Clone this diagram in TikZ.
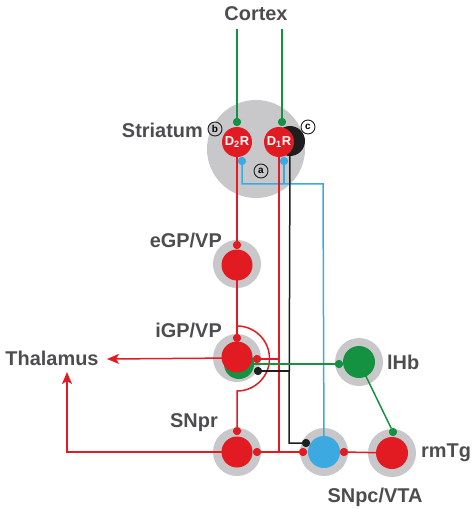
\documentclass[tikz,border=0pt]{standalone}
\usepackage{fontspec}
\setmainfont{Liberation Sans}
\usetikzlibrary{arrows.meta}
\definecolor{myred}{RGB}{226,26,34}
\definecolor{mygreen}{RGB}{20,145,65}
\definecolor{myblue}{RGB}{60,170,225}
\definecolor{mygray}{RGB}{200,200,202}
\definecolor{txtgray}{RGB}{77,77,79}
\definecolor{myblack}{RGB}{30,30,30}
\tikzset{
  lbl/.style={text=txtgray,font=\fontsize{20}{22}\selectfont\bfseries,inner sep=0pt},
  halo/.style={circle,fill=mygray,minimum size=48bp,inner sep=0pt},
  core/.style={circle,fill=#1,minimum size=31bp,inner sep=0pt},
  dot/.style={circle,fill=#1,minimum size=8bp,inner sep=0pt},
  lnk/.style={line width=1.5bp,draw=#1},
  tag/.style={circle,draw=myblack,line width=0.9bp,minimum size=14bp,inner sep=0pt,font=\fontsize{10}{10}\selectfont\bfseries},
  rec/.style={circle,fill=myred,minimum size=30bp,inner sep=0pt,text=white,font=\fontsize{13}{13}\selectfont\bfseries},
  tip/.style={-{Stealth[length=12bp,width=10bp,inset=3bp]}}
}
\begin{document}
\begin{tikzpicture}[x=1bp,y=-1bp]
\useasboundingbox (0,0) rectangle (475,509);
% labels
\node[lbl] (cortex) at (256,14) {Cortex};
\node[lbl,anchor=east] (striatumL) at (203,130) {Striatum};
\node[lbl,anchor=east] (egpL) at (222,240) {eGP/VP};
\node[lbl,anchor=east] (igpL) at (222,330) {iGP/VP};
\node[lbl,anchor=east] (snprL) at (218,423) {SNpr};
\node[lbl] (thal) at (52,358) {Thalamus};
\node[lbl,anchor=west] (lhbL) at (387,362) {lHb};
\node[lbl,anchor=west] (rmtgL) at (421,453) {rmTg};
\node[lbl] (snpcL) at (375,497) {SNpc/VTA};
% gray halos
\node[circle,fill=mygray,minimum size=98bp,inner sep=0pt] (striatum) at (256,149) {};
\node[halo] (egpH) at (237,264) {};
\node[halo] (igpH) at (237,358) {};
\node[halo] (snprH) at (237,452) {};
\node[halo] (snpcH) at (324,452) {};
\node[halo] (rmtgH) at (392,453) {};
\node[halo] (lhbH) at (359,362) {};
% coordinates
\coordinate (c1) at (237,29);
\coordinate (c2) at (282,29);
\coordinate (arcTop) at (237,326);
\coordinate (b1) at (242,184);
\coordinate (b2) at (284,184);
\coordinate (b3) at (323,184);
\coordinate (k1) at (289,443);
\coordinate (k2) at (289,371);
\coordinate (r1) at (279,359);
\coordinate (r2) at (279,452);
\coordinate (t1) at (107,359);
\coordinate (t2) at (67,452);
\coordinate (t3) at (67,372);
\coordinate (g1) at (248,364);
% dots
\node[dot=mygreen] (d2top) at (237,122) {};
\node[dot=mygreen] (d1top) at (282,122) {};
\node[dot=myblue] (d2bot) at (242,161) {};
\node[dot=myblue] (d1bot) at (284,161) {};
\node[dot=myred] (egpTop) at (237,245) {};
\node[dot=myred] (igpTop) at (237,338) {};
\node[dot=myred] (igpR) at (257,359) {};
\node[dot=myblack] (igpK) at (258,371) {};
\node[dot=mygreen] (lhbDot) at (339,364) {};
\node[dot=myred] (snprTop) at (237,431) {};
\node[dot=myred] (snprR) at (257,452) {};
\node[dot=myred] (snpcL) at (303,452) {};
\node[dot=myblack] (snpcK) at (306,443) {};
\node[dot=myred] (snpcR) at (344,452) {};
\node[dot=mygreen] (rmtgTop) at (393,432) {};
% connectors
\draw[lnk=mygreen] (c1) -- (d2top);
\draw[lnk=mygreen] (c2) -- (d1top);
\draw[lnk=myblue] (d2bot) -- (b1) -- (b3) -- (snpcH.center);
\draw[lnk=myblue] (d1bot) -- (b2);
\draw[lnk=myred] (237,150) -- (egpTop);
\draw[lnk=myred] (egpH.center) -- (arcTop) -- (igpTop);
\draw[lnk=myred] (arcTop) arc[start angle=-90,end angle=90,radius=32.5] -- (snprTop);
\draw[lnk=myred] (279,150) -- (r2);
\draw[lnk=myred] (igpR) -- (r1);
\draw[lnk=myred] (snprR) -- (snpcL);
\draw[lnk=myred] (snpcR) -- (rmtgH.center);
\draw[lnk=myblack] (290,150) -- (k1) -- (snpcK);
\draw[lnk=myblack] (igpK) -- (k2);
\draw[lnk=mygreen] (g1) -- (lhbDot);
\draw[lnk=mygreen] (lhbH.center) -- (rmtgTop);
\draw[lnk=myred,tip] (igpH.center) -- (t1);
\draw[lnk=myred,tip] (snprH.center) -- (t2) -- (t3);
% cores
\node[circle,fill=myblack,minimum size=30bp,inner sep=0pt] (blk) at (290,141) {};
\node[rec] (d2r) at (237,142) {D\textsubscript{2}R};
\node[rec] (d1r) at (279,142) {D\textsubscript{1}R};
\node[core=myred] (egp) at (237,265) {};
\node[core=mygreen,minimum size=30bp] (igpG) at (239,364) {};
\node[core=myred] (igp) at (237,357) {};
\node[core=myred] (snpr) at (237,452) {};
\node[core=myblue,minimum size=32bp] (snpc) at (324,452) {};
\node[core=myred,minimum size=32bp] (rmtg) at (392,453) {};
\node[core=mygreen,minimum size=32bp] (lhb) at (359,362) {};
% redraw dots on top
\foreach \n/\c in {d2top/mygreen,d1top/mygreen,d2bot/myblue,d1bot/myblue,egpTop/myred,igpTop/myred,igpR/myred,igpK/myblack,lhbDot/mygreen,snprTop/myred,snprR/myred,snpcL/myred,snpcK/myblack,snpcR/myred,rmtgTop/mygreen}
  \fill[\c] (\n) circle (4bp);
% tags
\node[tag,fill=mygray] (tb) at (215,129) {b};
\node[tag,fill=white] (tc) at (308,127) {c};
\node[tag,fill=mygray] (ta) at (261,171) {a};
\end{tikzpicture}
\end{document}
